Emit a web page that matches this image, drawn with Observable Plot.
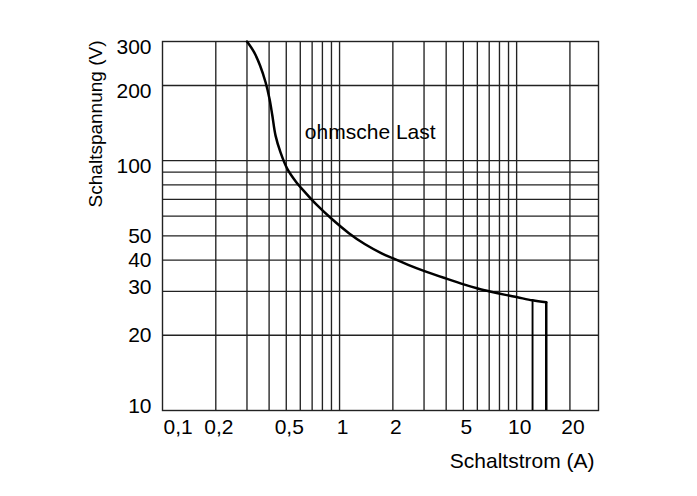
<!DOCTYPE html>
<html><head><meta charset="utf-8">
<script src="https://cdn.jsdelivr.net/npm/d3@7"></script>
<script src="https://cdn.jsdelivr.net/npm/@observablehq/plot@0.6"></script>
<style>
html,body{margin:0;padding:0;background:#fff;}
#chart svg{font-family:"Liberation Sans", Arial, sans-serif;}
</style></head><body><div id="chart"></div>
<script>
// Curve: Schaltstrom (A) vs Schaltspannung (V), ohmsche Last
const current = [0.30, 0.329, 0.356, 0.382, 0.402, 0.417, 0.435, 0.464, 0.506, 0.563, 0.641, 0.739, 0.905, 1.124, 1.393, 1.728, 1.993, 2.44, 2.94, 3.92, 5.08, 6.04, 7.17, 8.51, 10.1, 12.3, 14.7];
const voltage = [300, 272, 240, 206, 177, 152, 126, 108, 93, 83, 74.5, 66.8, 58.4, 51.4, 46.3, 42.6, 40.7, 38.3, 36.4, 33.9, 31.9, 30.8, 29.9, 29.1, 28.4, 27.6, 27.1];
// vertical drop lines at the end of the curve
const dropCurrent = [12.3, 14.7];
const dropVoltage = [27.6, 27.1];
// grid and ticks
const xGrid = [0.2, 0.3, 0.4, 0.5, 0.6, 0.7, 0.8, 0.9, 1, 2, 3, 4, 5, 6, 7, 8, 9, 10, 20];
const yGrid = [20, 30, 40, 50, 60, 70, 80, 90, 100, 200];
const xTicks = [0.1, 0.2, 0.5, 1, 2, 5, 10, 20];
const yTicksUpper = [100, 200, 300];
const yTicksMid = [20, 40, 50];
const yTicksLower = [10, 30];
const xDomain = [0.1, 29];
const yDomain = [10, 300];
const annotation = [{x: 1.49, y: 130, text: "ohmsche Last"}];
const xLabel = "Schaltstrom (A)";
const yLabel = "Schaltspannung (V)";

const curveData = current.map((c, i) => ({x: c, y: voltage[i]}));
const fmt = d => String(d).replace(".", ",");
const gridStyle = {stroke: "#222", strokeWidth: 1.35};
const yTickLabel = (ticks, dy) => Plot.text(ticks, {y: d => d, text: d => String(d), frameAnchor: "left", textAnchor: "end", dx: -11, dy, fontSize: 21, ariaLabel: "y-axis tick label"});

const chart = Plot.plot({
  width: 697, height: 496,
  marginLeft: 162, marginRight: 99, marginTop: 41, marginBottom: 86,
  x: {type: "log", domain: xDomain, label: null, axis: null},
  y: {type: "log", domain: yDomain, label: null, axis: null},
  style: {fontSize: "21px", color: "#000", background: "#fff", fontFamily: "'Liberation Sans', Arial, sans-serif"},
  marks: [
    Plot.ruleX(xGrid, gridStyle),
    Plot.ruleY(yGrid, gridStyle),
    Plot.frame({stroke: "#222", strokeWidth: 1.4}),
    Plot.text(annotation, {x: "x", y: "y", text: "text", fontSize: 21, fill: "#000", ariaLabel: "annotation"}),
    Plot.line(curveData, {x: "x", y: "y", curve: "catmull-rom", stroke: "#000", strokeWidth: 2.5}),
    Plot.ruleX([0], {x: () => dropCurrent[0], y1: () => yDomain[0], y2: () => dropVoltage[0], stroke: "#000", strokeWidth: 1.9}),
    Plot.ruleX([0], {x: () => dropCurrent[1], y1: () => yDomain[0], y2: () => dropVoltage[1], stroke: "#000", strokeWidth: 2.5}),
    Plot.text(xTicks.slice(1), {x: d => d, text: fmt, frameAnchor: "bottom", dy: 23, dx: 3, fontSize: 21, ariaLabel: "x-axis tick label"}),
    Plot.text(xTicks.slice(0, 1), {x: d => d, text: fmt, frameAnchor: "bottom", textAnchor: "start", dy: 23, dx: 1, fontSize: 21, ariaLabel: "x-axis tick label"}),
    yTickLabel(yTicksUpper, 6),
    yTickLabel(yTicksMid, 0),
    yTickLabel(yTicksLower, -4),
    Plot.text([xLabel], {text: d => d, frameAnchor: "bottom-right", textAnchor: "end", dx: -4, dy: 57, fontSize: 21}),
    Plot.text([yLabel], {text: d => d, frameAnchor: "top-left", rotate: -90, textAnchor: "end", dx: -74, dy: -1, fontSize: 19})
  ]
});
document.getElementById("chart").appendChild(chart);

// white box behind the annotation, interrupting the grid lines
const g = chart.querySelector('g[aria-label="annotation"]');
if (g) {
  const bb = g.getBBox();
  const r = document.createElementNS("http://www.w3.org/2000/svg", "rect");
  r.setAttribute("x", bb.x - 9);
  r.setAttribute("y", bb.y - 11);
  r.setAttribute("width", bb.width + 14);
  r.setAttribute("height", bb.height + 22);
  r.setAttribute("fill", "#fff");
  g.insertBefore(r, g.firstChild);
}
</script></body></html>
